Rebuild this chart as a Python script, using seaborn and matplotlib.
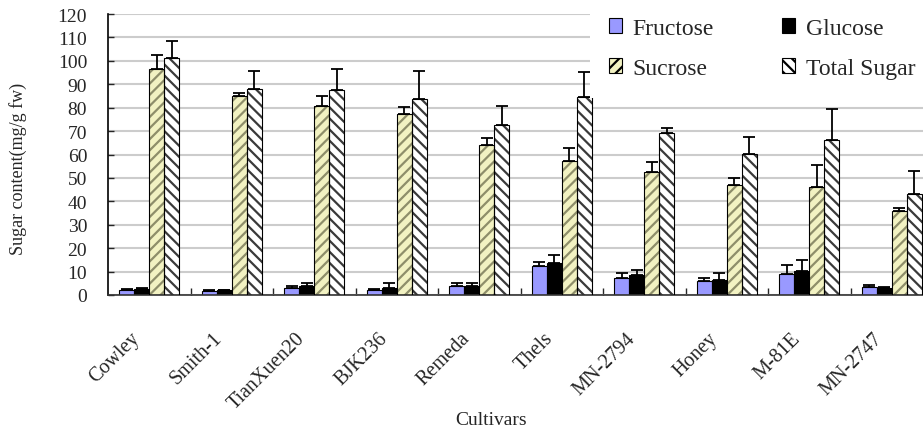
import numpy as np
import pandas as pd
import seaborn as sns
import matplotlib
matplotlib.use("Agg")
import matplotlib.pyplot as plt
import matplotlib.patches as mpatches
from matplotlib.transforms import ScaledTranslation

# Sugar content per cultivar (mg/g fresh weight) with standard errors
cultivars = ["Cowley", "Smith-1", "TianXuen20", "BJK236", "Remeda",
             "Thels", "MN-2794", "Honey", "M-81E", "MN-2747"]
fructose = [2.3, 1.8, 3.2, 2.2, 3.8, 12.3, 7.4, 5.9, 8.8, 3.6]
fructose_err = [0.3, 0.3, 0.5, 0.4, 1.5, 2.0, 2.1, 1.5, 4.0, 0.8]
glucose = [2.5, 2.0, 3.8, 3.0, 3.8, 13.8, 8.5, 6.6, 10.2, 3.0]
glucose_err = [0.3, 0.3, 1.5, 2.2, 1.4, 3.3, 2.1, 2.6, 4.7, 0.3]
sucrose = [96.6, 84.8, 80.9, 77.4, 64.2, 57.1, 52.4, 46.9, 46.2, 35.7]
sucrose_err = [6.0, 1.5, 4.0, 2.8, 2.8, 5.6, 4.2, 2.9, 9.4, 1.4]
total_sugar = [101.0, 88.0, 87.6, 83.8, 72.8, 84.5, 69.2, 60.2, 66.2, 43.1]
total_sugar_err = [7.5, 7.7, 8.8, 12.0, 8.0, 10.7, 2.0, 7.4, 13.3, 10.0]

series_names = ["Fructose", "Glucose", "Sucrose", "Total Sugar"]
series_vals = [fructose, glucose, sucrose, total_sugar]
series_errs = [fructose_err, glucose_err, sucrose_err, total_sugar_err]

face_colors = ["#9999FF", "#000000", "#F2F2C2", "#FFFFFF"]
hatch_colors = [None, None, "#8E8E6A", "#3A3A3A"]
hatches = [None, None, "///", "\\\\\\"]

sns.set_style("white")
plt.rcParams["font.family"] = ["Liberation Serif", "DejaVu Serif"]
plt.rcParams["hatch.linewidth"] = 1.6

df = pd.DataFrame({
    "Cultivar": np.repeat(cultivars, len(series_names)),
    "Sugar": series_names * len(cultivars),
    "Value": np.array(series_vals).T.ravel(),
})

fig = plt.figure(figsize=(9.23, 4.35), dpi=100)
ax = fig.add_axes([108 / 923, 139 / 435, 825 / 923, 281 / 435])

sns.barplot(data=df, x="Cultivar", y="Value", hue="Sugar",
            order=cultivars, hue_order=series_names,
            palette=face_colors, width=0.73, errorbar=None,
            legend=False, ax=ax, zorder=2)

bar_containers = list(ax.containers)
for k, cont in enumerate(bar_containers):
    centers = []
    tops = []
    for patch in cont.patches:
        patch.set_facecolor(face_colors[k])
        if hatches[k] is None:
            patch.set_edgecolor("black")
            patch.set_linewidth(0.8)
        else:
            patch.set_edgecolor(hatch_colors[k])
            patch.set_linewidth(0)
            patch.set_hatch(hatches[k])
            ax.add_patch(mpatches.Rectangle(
                (patch.get_x(), patch.get_y()), patch.get_width(), patch.get_height(),
                fill=False, edgecolor="black", linewidth=0.8, zorder=3))
        centers.append(patch.get_x() + patch.get_width() / 2)
        tops.append(patch.get_height())
    errs = np.array(series_errs[k])
    ax.errorbar(centers, tops, yerr=[np.zeros_like(errs), errs],
                fmt="none", ecolor="black", elinewidth=1.3,
                capsize=4.3, capthick=1.3, zorder=4)

# axes, grid and ticks
ax.set_ylim(0, 120)
ax.set_xlim(-0.5, len(cultivars) - 0.5)
ax.set_yticks(np.arange(0, 121, 10))
ax.yaxis.grid(True, color="#CCCCCC", linewidth=1.5)
ax.set_axisbelow(True)
for side in ["top", "right"]:
    ax.spines[side].set_visible(False)
ax.spines["left"].set_color("black")
ax.spines["left"].set_linewidth(1.2)
ax.spines["bottom"].set_color("#333333")
ax.spines["bottom"].set_linewidth(1.2)

ax.tick_params(axis="y", direction="in", length=4, width=1, pad=15,
               labelsize=14, left=True)
ax.set_xticks(np.arange(len(cultivars)))
ax.set_xticks(np.arange(len(cultivars)) + 0.5, minor=True)
ax.tick_params(axis="x", which="major", length=0, pad=29)
ax.tick_params(axis="x", which="minor", direction="in", length=5, width=1,
               bottom=True)
ax.set_xticklabels(cultivars, rotation=45, rotation_mode="anchor",
                   ha="right", va="center", fontsize=14.5)
shift = ScaledTranslation(-12 / 100, 0, fig.dpi_scale_trans)
for lab in ax.get_xticklabels():
    lab.set_transform(lab.get_transform() + shift)

ax.set_xlabel("Cultivars", fontsize=14)
ax.xaxis.set_label_coords(0.464, -0.413)
ax.set_ylabel("Sugar content(mg/g fw)", fontsize=13)
ax.yaxis.set_label_coords(-0.098, 0.452)

# legend in two columns at the top right
handles = [mpatches.Patch(facecolor=face_colors[i], edgecolor="black",
                          linewidth=0.8, hatch=hatches[i])
           for i in range(4)]
order = [0, 2, 1, 3]
leg = ax.legend([handles[i] for i in order], [series_names[i] for i in order],
                ncol=2, loc="upper left", bbox_to_anchor=(590 / 923, 1.0),
                bbox_transform=fig.transFigure, fontsize=17, frameon=True,
                fancybox=False, framealpha=1, facecolor="white",
                edgecolor="none", borderpad=0.8, borderaxespad=0,
                labelspacing=0.8, handlelength=0.55, handleheight=0.55,
                handletextpad=0.45, columnspacing=2.9)

fig.savefig("out.png", dpi=100)
